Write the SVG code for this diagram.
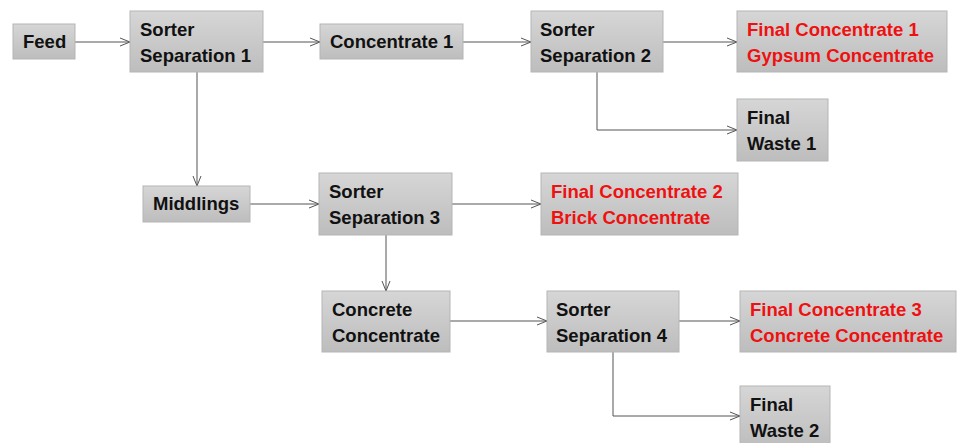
<svg xmlns="http://www.w3.org/2000/svg" width="960" height="443" viewBox="0 0 960 443">
<defs>
<linearGradient id="g" x1="0" y1="0" x2="0" y2="1">
<stop offset="0" stop-color="#d6d6d6"/>
<stop offset="1" stop-color="#bdbdbd"/>
</linearGradient>
<marker id="a" viewBox="0 0 10 10" refX="10" refY="5" markerWidth="10" markerHeight="10" markerUnits="userSpaceOnUse" orient="auto">
<path d="M0,1 L10,5 L0,9" fill="none" stroke="#555" stroke-width="1"/>
</marker>
</defs>
<style>
rect{fill:url(#g);stroke:#b5b5b5;stroke-width:1}
text{font-family:"Liberation Sans",Arial,sans-serif;font-weight:bold;font-size:18.5px;fill:#111}
.r{fill:#ee1111}
#edges path{fill:none;stroke:#555;stroke-width:1;marker-end:url(#a)}
</style>
<rect width="960" height="443" fill="#fff" stroke="none" style="fill:#fff;stroke:none"/>
<g id="edges">
<path d="M75,42 H130"/>
<path d="M263,42 H320"/>
<path d="M463,42 H531"/>
<path d="M663,42 H737"/>
<path d="M597,72 V130 H737"/>
<path d="M197,72 V186"/>
<path d="M250,204 H319"/>
<path d="M452,204 H541"/>
<path d="M386,235 V291"/>
<path d="M450,321 H547"/>
<path d="M679,321 H740"/>
<path d="M613,352 V416 H740"/>
</g>
<g id="feed"><rect x="13" y="24" width="62" height="35"/><text x="23" y="48">Feed</text></g>
<g id="sep1"><rect x="130" y="11" width="133" height="61"/><text x="140" y="36">Sorter</text><text x="140" y="62">Separation 1</text></g>
<g id="conc1"><rect x="320" y="24" width="143" height="35"/><text x="330" y="48">Concentrate 1</text></g>
<g id="sep2"><rect x="531" y="11" width="132" height="61"/><text x="540" y="36">Sorter</text><text x="540" y="62">Separation 2</text></g>
<g id="fc1"><rect x="737" y="11" width="210" height="61"/><text class="r" x="747" y="36">Final Concentrate 1</text><text class="r" x="747" y="62">Gypsum Concentrate</text></g>
<g id="fw1"><rect x="737" y="99" width="91" height="62"/><text x="747" y="124">Final</text><text x="747" y="150">Waste 1</text></g>
<g id="middlings"><rect x="143" y="186" width="107" height="36"/><text x="153" y="210">Middlings</text></g>
<g id="sep3"><rect x="319" y="173" width="133" height="62"/><text x="329" y="198">Sorter</text><text x="329" y="224">Separation 3</text></g>
<g id="fc2"><rect x="541" y="173" width="197" height="62"/><text class="r" x="551" y="198">Final Concentrate 2</text><text class="r" x="551" y="224">Brick Concentrate</text></g>
<g id="concrete"><rect x="322" y="291" width="128" height="61"/><text x="332" y="316">Concrete</text><text x="332" y="342">Concentrate</text></g>
<g id="sep4"><rect x="547" y="291" width="132" height="61"/><text x="556" y="316">Sorter</text><text x="556" y="342">Separation 4</text></g>
<g id="fc3"><rect x="740" y="291" width="216" height="61"/><text class="r" x="750" y="316">Final Concentrate 3</text><text class="r" x="750" y="342">Concrete Concentrate</text></g>
<g id="fw2"><rect x="740" y="386" width="90" height="62"/><text x="750" y="411">Final</text><text x="750" y="437">Waste 2</text></g>
</svg>
